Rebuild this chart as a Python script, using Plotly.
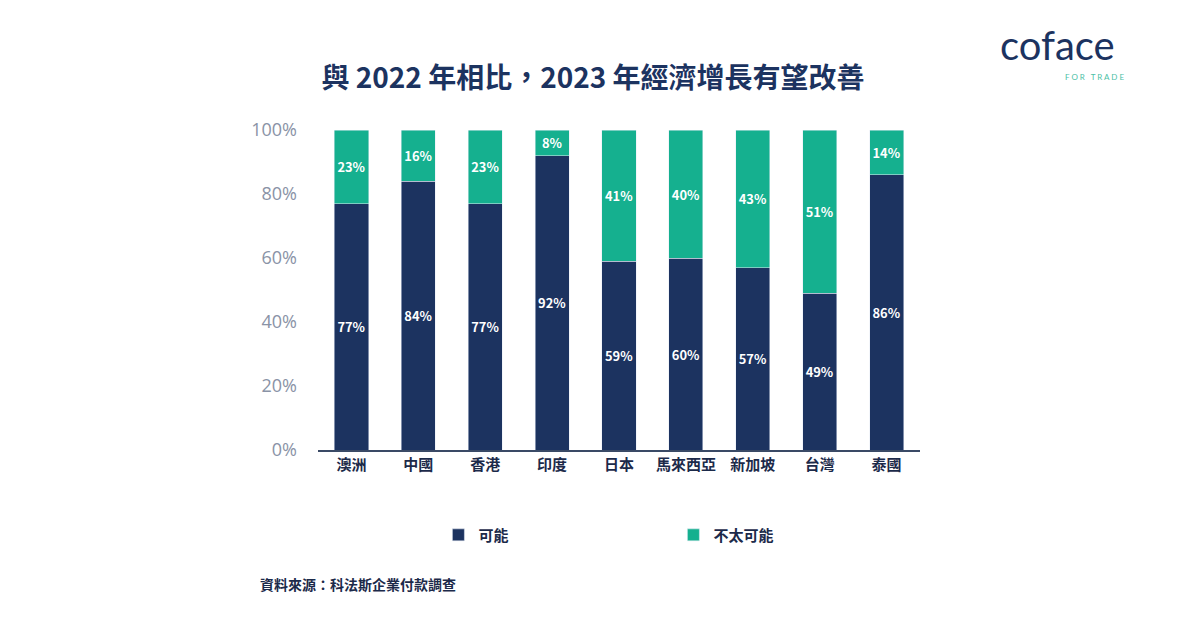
import plotly.graph_objects as go

countries = ["澳洲", "中國", "香港", "印度", "日本", "馬來西亞", "新加坡", "台灣", "泰國"]
likely = [77, 84, 77, 92, 59, 60, 57, 49, 86]
unlikely = [23, 16, 23, 8, 41, 40, 43, 51, 14]

NAVY = "#1c3360"
TEAL = "#15b08f"
FONT = "Noto Sans CJK TC"

fig = go.Figure()
fig.add_trace(go.Bar(
    x=countries, y=likely, name="<b>可能</b>", marker_color=NAVY,
    text=[f"<b>{v}%</b>" for v in likely], textposition="inside", insidetextanchor="middle",
    textangle=0, textfont=dict(color="white", size=14, family=FONT),
))
fig.add_trace(go.Bar(
    x=countries, y=unlikely, name="<b>不太可能</b>", marker_color=TEAL,
    text=[f"<b>{v}%</b>" for v in unlikely], textposition="inside", insidetextanchor="middle",
    textangle=0, textfont=dict(color="white", size=14, family=FONT),
))

fig.update_layout(
    barmode="stack",
    bargap=0.49,
    width=1200, height=627,
    plot_bgcolor="white", paper_bgcolor="white",
    font=dict(family=FONT, color="#1c2a4a"),
    margin=dict(l=310, r=288, t=122, b=185),
    title=dict(text="<b>與 2022 年相比，2023 年經濟增長有望改善</b>",
               x=0.4875, xanchor="center", y=0.888, yanchor="middle",
               font=dict(size=28, color="#1c3360", family=FONT)),
    xaxis=dict(showline=True, linecolor="#3a4a66", linewidth=2,
               tickfont=dict(size=15, color="#1c2a4a", family=FONT), ticks="",
               tickvals=countries, ticktext=[f"<b>{c}</b>" for c in countries]),
    yaxis=dict(range=[0, 100], dtick=20, ticksuffix="%", showgrid=False,
               tickfont=dict(size=18, color="#8a93a6", family="Open Sans"), ticklabelstandoff=20),
    uniformtext=dict(mode="show", minsize=10),
    legend=dict(orientation="h", x=0.2, xanchor="left", y=-0.266, yanchor="middle",
                entrywidth=190, font=dict(size=15, family=FONT, color="#1c2a4a"),
                traceorder="normal"),
    showlegend=True,
)

fig.add_annotation(text="<b>資料來源：科法斯企業付款調查</b>", xref="paper", yref="paper",
                   x=-0.1, xanchor="left", y=-0.42, yanchor="middle", showarrow=False,
                   font=dict(size=14, color="#1c2a4a", family=FONT))
fig.add_annotation(text="coface", xref="paper", yref="paper",
                   x=1.228, xanchor="center", y=1.265, yanchor="middle", showarrow=False,
                   font=dict(size=40, color="#1c3360", family="Lato"))
fig.add_annotation(text="F O R   T R A D E", xref="paper", yref="paper",
                   x=1.29, xanchor="center", y=1.165, yanchor="middle", showarrow=False,
                   font=dict(size=8, color="#4dbfa6", family="Lato"))

fig.write_html("out.html")
